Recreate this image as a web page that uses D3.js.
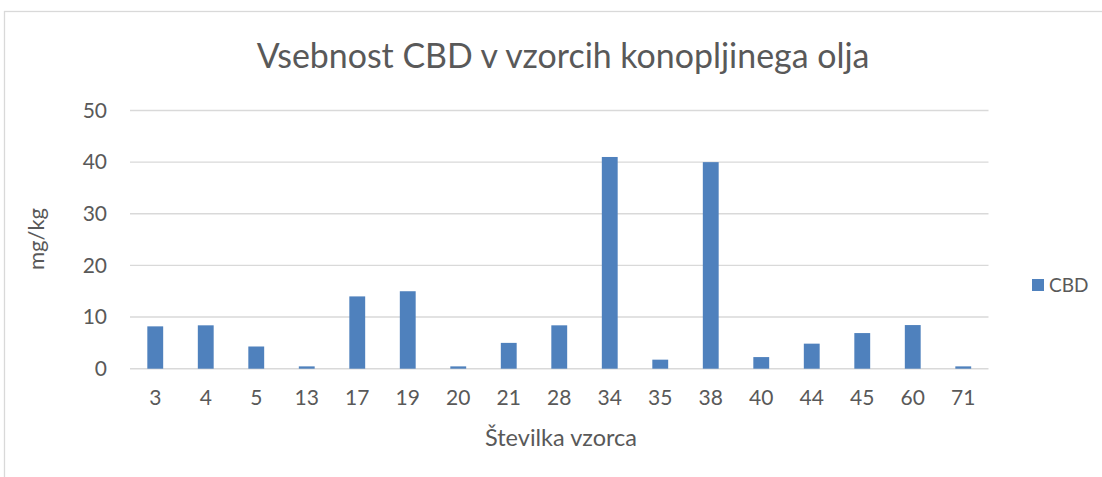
<!DOCTYPE html>
<html><head><meta charset="utf-8">
<script src="https://cdn.jsdelivr.net/npm/d3@7"></script>
<style>body{margin:0;background:#fff;} text{font-family:Lato, "Open Sans", sans-serif;}</style>
</head><body>
<svg id="chart" width="1102" height="477"></svg>
<script>
const categories = ["3","4","5","13","17","19","20","21","28","34","35","38","40","44","45","60","71"];
const cbdValues = [8.2,8.4,4.3,0.45,14.0,15.0,0.45,5.0,8.4,41.0,1.75,40.0,2.25,4.85,6.9,8.45,0.45];
const yTicks = [0,10,20,30,40,50];
const seriesName = "CBD";
const titleText = "Vsebnost CBD v vzorcih konopljinega olja";
const xTitle = "Številka vzorca";
const yTitle = "mg/kg";

const svg = d3.select("#chart");
const W = 1102, H = 477;
const m = {left:130, right:1102-988.5, top:110.5, bottom:477-368.7};
const grey = "#d9d9d9", txt = "#595959", barColor = "#4f81bd";

// chart border
svg.append("rect").attr("x",4.5).attr("y",11.5).attr("width",W+10).attr("height",H+10)
  .attr("fill","none").attr("stroke",grey).attr("stroke-width",1.3);

const x = d3.scaleBand().domain(categories).range([m.left, W-m.right]).paddingInner(0.686).paddingOuter(0.343);
const y = d3.scaleLinear().domain([0,50]).range([H-m.bottom, m.top]);

// gridlines
svg.append("g").selectAll("line").data(yTicks).join("line")
  .attr("x1",m.left).attr("x2",W-m.right)
  .attr("y1",d=>y(d)).attr("y2",d=>y(d))
  .attr("stroke",grey).attr("stroke-width",1.4);

// y tick labels
const yAxis = d3.axisLeft(y).tickValues(yTicks).tickSize(0).tickPadding(0);
const yg = svg.append("g").attr("transform",`translate(${m.left-23},0)`).call(yAxis);
yg.select(".domain").remove();
yg.selectAll("text").attr("fill",txt).style("font-size","21px").attr("font-family","Lato");

// bars
svg.append("g").selectAll("rect").data(cbdValues).join("rect")
  .attr("x",(d,i)=>x(categories[i]))
  .attr("width",x.bandwidth())
  .attr("y",d=>y(d))
  .attr("height",d=>y(0)-y(d))
  .attr("fill",barColor);

// x axis labels
const xAxis = d3.axisBottom(x).tickSize(0).tickPadding(0);
const xg = svg.append("g").attr("transform",`translate(0,${y(0)+21})`).call(xAxis);
xg.select(".domain").remove();
xg.selectAll("text").attr("fill",txt).style("font-size","21px").attr("font-family","Lato")
  .attr("dy","0.71em");

// title
const t = svg.append("text").attr("x",563).attr("y",68).attr("text-anchor","middle")
  .attr("fill",txt).style("font-size","37px").text(titleText);
const tw = t.node().getComputedTextLength();
t.style("font-size",(37*613/tw)+"px");

// axis titles
svg.append("text").attr("x",561).attr("y",446).attr("text-anchor","middle")
  .attr("fill",txt).style("font-size","23.5px").text(xTitle);
svg.append("text").attr("transform",`translate(44,239) rotate(-90)`).attr("text-anchor","middle")
  .attr("fill",txt).style("font-size","22px").text(yTitle);

// legend
const lg = svg.append("g").attr("transform","translate(1032,279)");
lg.append("rect").attr("width",12).attr("height",12).attr("fill",barColor);
lg.append("text").attr("x",17).attr("y",6).attr("dy","0.35em").attr("fill",txt)
  .style("font-size","19px").text(seriesName);
</script>
</body></html>
